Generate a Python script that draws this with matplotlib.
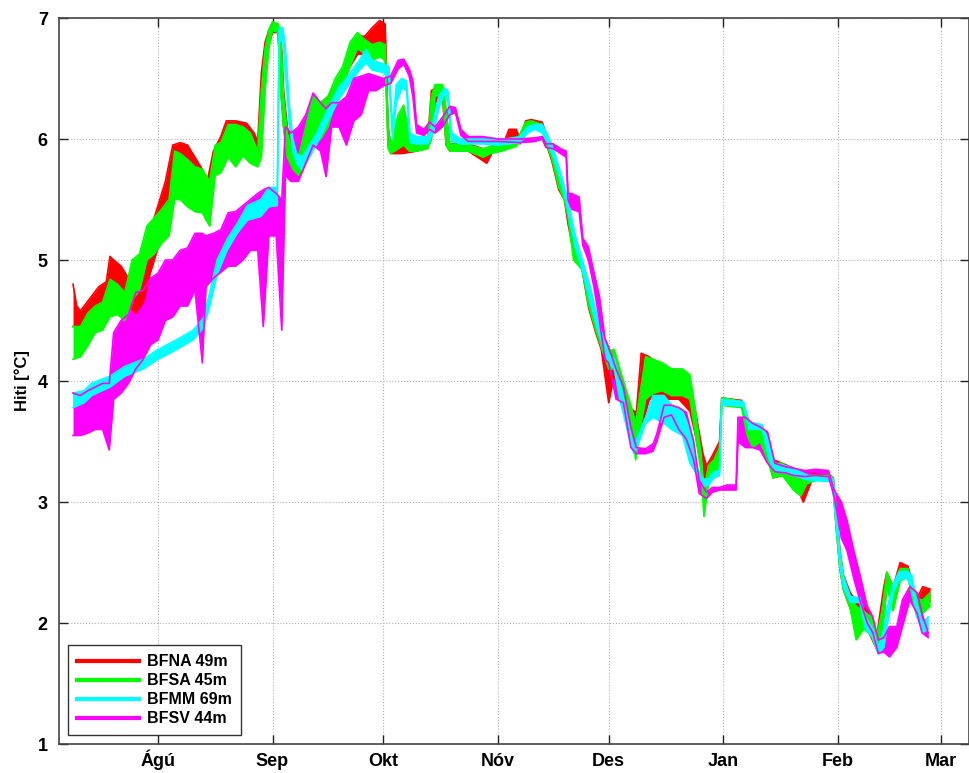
import matplotlib
matplotlib.use("Agg")
import matplotlib.pyplot as plt
import numpy as np

# x positions: days since 1 August; rows are (day, low, high)
month_pos = [0, 31, 61, 92, 122, 153, 184, 212]
month_labels = ['Ágú', 'Sep', 'Okt', 'Nóv', 'Des', 'Jan', 'Feb', 'Mar']
y_ticks = [1, 2, 3, 4, 5, 6, 7]

bfna = [(-23, 4.45, 4.80), (-22, 4.45, 4.62), (-21, 4.25, 4.58), (-20, 4.45, 4.62), (-18, 4.50, 4.70),
        (-16, 4.55, 4.78), (-14, 4.60, 4.82), (-13, 4.78, 5.03), (-12, 4.80, 5.00), (-10, 4.70, 4.95),
        (-8, 4.62, 4.85), (-6, 4.56, 4.75), (-4, 4.65, 4.85), (-2, 4.90, 5.25), (0, 5.10, 5.45),
        (2, 5.25, 5.65), (4, 5.60, 5.95), (6, 5.78, 5.97), (8, 5.70, 5.95), (10, 5.50, 5.85),
        (12, 5.45, 5.75), (13, 5.33, 5.60), (15, 5.69, 5.90), (17, 5.88, 6.02), (18.5, 6.05, 6.15),
        (21, 6.07, 6.15), (24, 6.05, 6.13), (26, 5.90, 6.05), (27, 5.80, 5.98), (28, 6.00, 6.55),
        (29, 6.50, 6.80), (30, 6.78, 6.90), (31, 6.88, 6.96), (32.5, 6.88, 6.95), (33.3, 6.40, 6.85),
        (34, 6.10, 6.40), (35, 5.85, 6.10), (36.5, 5.75, 5.90), (38, 5.70, 5.85), (40, 5.80, 6.05),
        (42, 5.95, 6.25), (44, 6.05, 6.30), (46, 6.15, 6.35), (48, 6.30, 6.45), (50, 6.45, 6.55),
        (52, 6.60, 6.75), (54, 6.70, 6.85), (56, 6.70, 6.85), (58, 6.68, 6.92), (60, 6.75, 6.98),
        (61.5, 6.70, 6.95), (62.3, 5.95, 6.10), (63, 5.88, 5.95), (66, 5.88, 5.95), (70, 5.90, 5.96),
        (73, 5.93, 5.98), (74, 6.00, 6.40), (75, 6.30, 6.42), (77, 6.35, 6.43), (78, 5.95, 6.20),
        (79, 5.90, 5.96), (84, 5.90, 5.96), (88, 5.82, 5.92), (89, 5.80, 5.90), (91, 5.92, 5.96),
        (94, 5.95, 6.00), (95, 6.00, 6.08), (97, 6.02, 6.08), (98, 5.96, 6.00), (99.5, 6.08, 6.15),
        (101, 6.12, 6.16), (104, 6.08, 6.14), (105, 5.97, 6.05), (106.6, 5.82, 5.90), (108.5, 5.58, 5.72),
        (110, 5.50, 5.58), (111, 5.30, 5.45), (112.5, 5.06, 5.22), (114.8, 4.92, 4.98), (116.6, 4.60, 4.80),
        (118.5, 4.40, 4.55), (120, 4.26, 4.40), (122, 3.82, 4.20), (123.5, 4.05, 4.22), (125.5, 3.82, 4.01),
        (128, 3.60, 3.77), (129.5, 3.52, 3.74), (130.8, 3.60, 4.23), (133, 3.85, 4.20), (136.5, 3.85, 4.12),
        (141, 3.85, 4.08), (144, 3.75, 4.00), (145.5, 3.55, 3.75), (147.5, 3.25, 3.40), (148.5, 3.15, 3.30),
        (150, 3.27, 3.38), (152, 3.40, 3.50), (152.6, 3.80, 3.86), (155, 3.80, 3.85), (158, 3.79, 3.84),
        (160, 3.55, 3.65), (163, 3.52, 3.62), (165, 3.40, 3.55), (166.5, 3.20, 3.35), (169, 3.22, 3.32),
        (172, 3.18, 3.28), (174.7, 3.00, 3.22), (177, 3.18, 3.23), (182, 3.18, 3.22), (182.8, 3.10, 3.20),
        (183.7, 2.75, 2.90), (184.6, 2.45, 2.60), (185.5, 2.28, 2.40), (187.4, 2.12, 2.25), (189, 1.95, 2.18),
        (192, 1.95, 2.10), (194.6, 1.78, 1.90), (196.5, 2.05, 2.30), (197.3, 2.30, 2.42), (199, 2.14, 2.30),
        (200.9, 2.40, 2.50), (203, 2.40, 2.47), (205.4, 2.10, 2.20), (207, 2.14, 2.30), (209, 2.18, 2.28)]

bfsa = [(-23, 4.18, 4.45), (-21, 4.20, 4.45), (-19, 4.29, 4.56), (-17, 4.40, 4.62), (-15, 4.42, 4.65),
        (-13, 4.53, 4.84), (-11, 4.55, 4.80), (-9, 4.50, 4.73), (-7, 4.67, 5.00), (-5, 4.75, 5.05),
        (-3, 5.00, 5.28), (-1, 5.05, 5.35), (1, 5.14, 5.42), (3, 5.20, 5.50), (4.5, 5.50, 5.90),
        (6, 5.50, 5.88), (8, 5.44, 5.83), (10, 5.40, 5.77), (12, 5.39, 5.75), (14, 5.28, 5.65),
        (15.5, 5.70, 5.95), (17, 5.72, 5.97), (19, 5.85, 6.12), (21, 5.77, 6.12), (23, 5.86, 6.10),
        (25, 5.80, 6.05), (27, 5.77, 5.90), (28, 5.85, 6.40), (29, 6.40, 6.75), (30, 6.75, 6.90),
        (31, 6.90, 6.97), (32.5, 6.88, 6.95), (33.3, 6.35, 6.80), (34, 6.10, 6.35), (35, 5.85, 6.05),
        (36.5, 5.75, 5.90), (38, 5.70, 5.85), (40, 5.80, 6.10), (42, 5.95, 6.35), (44, 6.00, 6.30),
        (46, 6.10, 6.35), (48, 6.30, 6.50), (50, 6.45, 6.60), (52, 6.60, 6.80), (54, 6.75, 6.88),
        (56, 6.70, 6.82), (58, 6.65, 6.78), (60, 6.68, 6.80), (61.5, 6.65, 6.78), (62.3, 5.92, 6.10),
        (63, 5.88, 5.95), (65, 5.92, 6.20), (66.5, 5.95, 6.28), (68, 5.90, 6.05), (70, 5.90, 5.95),
        (73, 5.92, 5.97), (74, 6.00, 6.35), (75, 6.35, 6.45), (77, 6.38, 6.45), (78, 5.95, 6.25),
        (79, 5.90, 5.96), (84, 5.90, 5.95), (88, 5.85, 5.92), (90, 5.88, 5.94), (93, 5.90, 5.95),
        (97, 5.94, 5.98), (99.5, 6.05, 6.14), (101, 6.10, 6.15), (104, 6.08, 6.12), (105, 5.97, 6.05),
        (106.6, 5.84, 5.90), (108.5, 5.60, 5.72), (110, 5.50, 5.58), (111, 5.35, 5.45), (112.5, 5.00, 5.22),
        (114.8, 4.92, 5.00), (116.6, 4.62, 4.80), (118.5, 4.42, 4.55), (120, 4.28, 4.40), (122, 4.10, 4.25),
        (123.5, 4.10, 4.26), (125.5, 3.85, 4.05), (128, 3.62, 3.80), (129.3, 3.35, 3.65), (130.5, 3.60, 3.90),
        (132, 3.85, 4.20), (134, 3.90, 4.18), (136.5, 3.92, 4.15), (139, 3.88, 4.10), (142, 3.88, 4.10),
        (144, 3.85, 4.05), (145.5, 3.55, 3.75), (147, 3.25, 3.40), (147.8, 2.88, 3.10), (149, 3.15, 3.30),
        (150.5, 3.20, 3.35), (152, 3.30, 3.45), (152.6, 3.80, 3.86), (155, 3.79, 3.85), (158, 3.78, 3.83),
        (159.5, 3.55, 3.70), (161, 3.45, 3.62), (163, 3.50, 3.62), (165, 3.35, 3.55), (166.5, 3.20, 3.32),
        (169, 3.22, 3.32), (172, 3.10, 3.22), (174, 3.05, 3.18), (175.6, 3.15, 3.22), (178, 3.18, 3.22),
        (182, 3.18, 3.22), (182.8, 3.10, 3.20), (183.7, 2.75, 2.90), (184.6, 2.45, 2.60), (185.5, 2.28, 2.40),
        (187.4, 2.12, 2.22), (189, 1.86, 2.14), (191, 1.95, 2.10), (193, 1.90, 2.05), (194.6, 1.78, 1.90),
        (196, 1.90, 2.10), (197.3, 2.30, 2.42), (199, 2.10, 2.30), (200.9, 2.35, 2.45), (203, 2.38, 2.45),
        (205.4, 2.05, 2.20), (207, 2.08, 2.19), (209, 2.14, 2.25)]

bfmm = [(-23, 3.78, 3.90), (-20, 3.82, 3.92), (-18, 3.88, 3.98), (-13, 3.95, 4.04), (-9, 4.04, 4.12),
        (-4, 4.10, 4.18), (0, 4.18, 4.26), (5, 4.26, 4.34), (9.5, 4.34, 4.42), (12.3, 4.44, 4.52),
        (14, 4.62, 4.73), (16, 4.88, 5.00), (18.7, 5.08, 5.17), (21.4, 5.22, 5.30), (24.2, 5.33, 5.45),
        (27.8, 5.36, 5.50), (30, 5.44, 5.60), (32.3, 5.45, 5.60), (32.8, 6.80, 6.92), (33.8, 6.82, 6.92),
        (34.5, 6.55, 6.75), (35.5, 6.15, 6.30), (36.5, 5.90, 6.00), (37.5, 5.80, 5.88), (39, 5.74, 5.85),
        (41, 5.85, 5.95), (43, 5.96, 6.05), (46, 6.15, 6.25), (49, 6.33, 6.43), (51, 6.42, 6.50),
        (54.5, 6.57, 6.65), (56.3, 6.63, 6.74), (58, 6.57, 6.65), (61, 6.55, 6.62), (62.5, 6.50, 6.60),
        (63.5, 6.00, 6.10), (64.5, 6.30, 6.45), (66, 6.42, 6.50), (67.3, 6.40, 6.48), (68.2, 5.97, 6.05),
        (70, 5.96, 6.02), (73, 5.96, 6.02), (74.5, 6.05, 6.15), (76, 6.25, 6.35), (77.5, 6.38, 6.42),
        (78.5, 6.30, 6.40), (79.5, 5.98, 6.05), (82, 5.96, 6.00), (88, 5.96, 6.00), (92, 5.95, 5.99),
        (98, 5.97, 6.02), (100, 6.05, 6.10), (102, 6.08, 6.12), (104, 6.05, 6.12), (105.5, 5.97, 6.03),
        (107, 5.85, 5.92), (109, 5.65, 5.72), (110.5, 5.48, 5.55), (111.5, 5.32, 5.42), (113, 5.10, 5.20),
        (115, 4.90, 4.98), (117, 4.65, 4.78), (119, 4.42, 4.52), (120.5, 4.28, 4.36), (122, 4.15, 4.22),
        (123.5, 4.10, 4.18), (125, 3.85, 4.00), (127, 3.60, 3.70), (128.8, 3.40, 3.45), (130, 3.48, 3.55),
        (132, 3.65, 3.70), (134, 3.70, 3.88), (137, 3.65, 3.88), (139, 3.60, 3.80), (142, 3.55, 3.75),
        (144, 3.32, 3.60), (146, 3.22, 3.28), (147.5, 3.13, 3.19), (149, 3.14, 3.19), (150.5, 3.20, 3.25),
        (152, 3.22, 3.26), (152.6, 3.80, 3.85), (155, 3.80, 3.84), (158.5, 3.79, 3.83), (160, 3.60, 3.66),
        (163.5, 3.60, 3.64), (165.5, 3.35, 3.48), (167, 3.25, 3.32), (170, 3.24, 3.30), (173, 3.21, 3.26),
        (176, 3.18, 3.22), (182, 3.17, 3.21), (182.8, 3.08, 3.18), (183.7, 2.78, 2.88), (184.6, 2.47, 2.57),
        (185.5, 2.30, 2.38), (187.4, 2.17, 2.22), (190, 2.17, 2.21), (191.5, 1.95, 2.05), (193.5, 1.88, 1.95),
        (195, 1.74, 1.80), (196.5, 1.80, 1.95), (197.5, 2.00, 2.14), (199, 2.25, 2.32), (200.5, 2.35, 2.42),
        (202.5, 2.38, 2.43), (204, 2.30, 2.40), (205.5, 2.05, 2.15), (207, 1.92, 2.00), (208.5, 1.95, 2.05)]

bfsv = [(-23, 3.55, 3.90), (-21, 3.55, 3.88), (-19, 3.57, 3.92), (-17, 3.60, 3.95), (-15, 3.60, 3.98),
        (-13.2, 3.43, 3.98), (-12, 3.85, 4.40), (-10, 3.90, 4.50), (-8, 3.98, 4.55), (-6, 4.10, 4.73),
        (-4, 4.18, 4.75), (-2, 4.30, 4.85), (0, 4.34, 4.89), (2, 4.50, 5.00), (4, 4.53, 5.00),
        (6, 4.62, 5.08), (8, 4.62, 5.10), (10, 4.75, 5.22), (12, 4.15, 5.22), (13, 4.78, 5.20),
        (15, 4.85, 5.22), (17, 4.90, 5.25), (19, 4.95, 5.39), (21, 4.95, 5.40), (23, 5.00, 5.45),
        (25, 5.08, 5.50), (27, 5.08, 5.55), (28.5, 4.45, 5.58), (30, 5.20, 5.60), (32, 5.20, 5.55),
        (33.5, 4.42, 5.50), (34.5, 5.70, 6.10), (36, 5.65, 6.05), (38, 5.65, 6.10), (40, 5.80, 6.20),
        (42, 5.95, 6.38), (44, 5.90, 6.30), (45.5, 5.69, 6.25), (47, 6.10, 6.30), (49, 6.10, 6.30),
        (51, 5.95, 6.35), (53, 6.15, 6.50), (55, 6.20, 6.52), (57, 6.40, 6.54), (59, 6.40, 6.52),
        (61, 6.44, 6.50), (63, 6.46, 6.52), (65, 6.58, 6.65), (66.5, 6.62, 6.66), (68, 6.52, 6.58),
        (69, 6.35, 6.48), (70, 6.05, 6.12), (72, 6.03, 6.08), (73.5, 6.08, 6.14), (75, 6.05, 6.10),
        (77, 6.10, 6.18), (79, 6.20, 6.27), (80.5, 6.22, 6.26), (82, 6.03, 6.08), (84, 5.98, 6.02),
        (88, 5.98, 6.02), (92, 5.98, 6.00), (98, 5.97, 6.00), (102, 5.98, 6.01), (104, 6.00, 6.02),
        (105, 5.93, 5.96), (107, 5.92, 5.96), (109, 5.88, 5.92), (110.5, 5.85, 5.90), (111, 5.50, 5.55),
        (112, 5.42, 5.55), (114, 5.40, 5.52), (115, 5.12, 5.18), (116.5, 5.00, 5.11), (118, 4.78, 4.90),
        (119.5, 4.50, 4.70), (121, 4.18, 4.35), (122, 4.15, 4.28), (124, 3.85, 4.10), (126, 3.82, 3.95),
        (128, 3.45, 3.62), (129.5, 3.40, 3.45), (132, 3.40, 3.44), (134, 3.42, 3.48), (135, 3.50, 3.56),
        (137, 3.70, 3.80), (139, 3.72, 3.80), (141, 3.60, 3.78), (143, 3.52, 3.74), (145, 3.35, 3.50),
        (146.5, 3.07, 3.18), (148.5, 3.03, 3.08), (150, 3.08, 3.12), (152, 3.10, 3.12), (154, 3.10, 3.14),
        (156.5, 3.10, 3.14), (157, 3.50, 3.70), (159, 3.45, 3.70), (161, 3.45, 3.65), (163, 3.43, 3.62),
        (165, 3.32, 3.58), (167, 3.25, 3.32), (170, 3.24, 3.29), (172, 3.22, 3.28), (175, 3.21, 3.26),
        (178, 3.22, 3.27), (181.5, 3.21, 3.26), (183, 3.05, 3.10), (185, 2.70, 3.00), (186.5, 2.60, 2.85),
        (188.5, 2.35, 2.58), (190, 2.19, 2.40), (192, 2.00, 2.14), (193.5, 1.92, 2.05), (195, 1.75, 1.86),
        (196.5, 1.76, 1.88), (198, 1.72, 1.97), (200, 1.80, 1.97), (201.5, 1.97, 2.19), (203.5, 2.19, 2.30),
        (205.5, 2.08, 2.25), (206.8, 1.92, 2.08), (208.5, 1.88, 1.92)]

series_names = ['BFNA 49m', 'BFSA 45m', 'BFMM 69m', 'BFSV 44m']
series_data = [bfna, bfsa, bfmm, bfsv]
series_colors = ['#ff0000', '#00ff00', '#00ffff', '#ff00ff']
fill_z = [2.1, 2.2, 2.3, 2.0]
edge_z = [2.1, 2.2, 2.3, 2.4]

plt.rcParams['font.family'] = ['Liberation Sans', 'DejaVu Sans']
plt.rcParams['font.weight'] = 'bold'

fig = plt.figure(figsize=(9.70, 7.73), dpi=100)
ax = fig.add_axes([0.0608, 0.0375, 0.9384, 0.9392])

for i in range(4):
    arr = np.array(series_data[i], dtype=float)
    t, lo, hi = arr[:, 0], arr[:, 1], arr[:, 2]
    c = series_colors[i]
    ax.fill_between(t, lo, hi, color=c, lw=0, zorder=fill_z[i])
    ax.plot(t, lo, color=c, lw=1.2, zorder=edge_z[i])
    ax.plot(t, hi, color=c, lw=1.2, zorder=edge_z[i])

handles = [plt.Line2D([], [], color=series_colors[i], lw=3) for i in range(4)]
leg = ax.legend(handles, series_names, loc='lower left', bbox_to_anchor=(0.0099, 0.0124),
                borderaxespad=0, fancybox=False, framealpha=1, edgecolor='#333333',
                prop={'weight': 'bold', 'size': 11.5}, handlelength=3.9, handletextpad=0.5,
                labelspacing=0.25, borderpad=0.55)
leg.get_frame().set_linewidth(1.0)
leg.set_zorder(10)

ax.set_xlim(-26.8, 219.6)
ax.set_ylim(1, 7)
ax.set_xticks(month_pos)
ax.set_xticklabels(month_labels)
ax.set_yticks(y_ticks)
ax.tick_params(direction='in', length=6.5, width=1, top=True, right=True,
               labelsize=13, colors='#222222')
ax.tick_params(axis='y', pad=8)
ax.tick_params(axis='x', pad=16)
for lab in ax.get_xticklabels():
    lab.set_verticalalignment('baseline')
for lab in ax.get_xticklabels() + ax.get_yticklabels():
    lab.set_fontweight('bold')
    lab.set_color('black')
ax.grid(True, linestyle=':', color='#b0b0b0', lw=0.8)
ax.set_axisbelow(True)
for s in ax.spines.values():
    s.set_color('#444444')
    s.set_linewidth(1.2)
ax.set_ylabel('Hiti [°C]', fontsize=12, fontweight='bold', labelpad=6)

fig.savefig('out.png', dpi=100)
